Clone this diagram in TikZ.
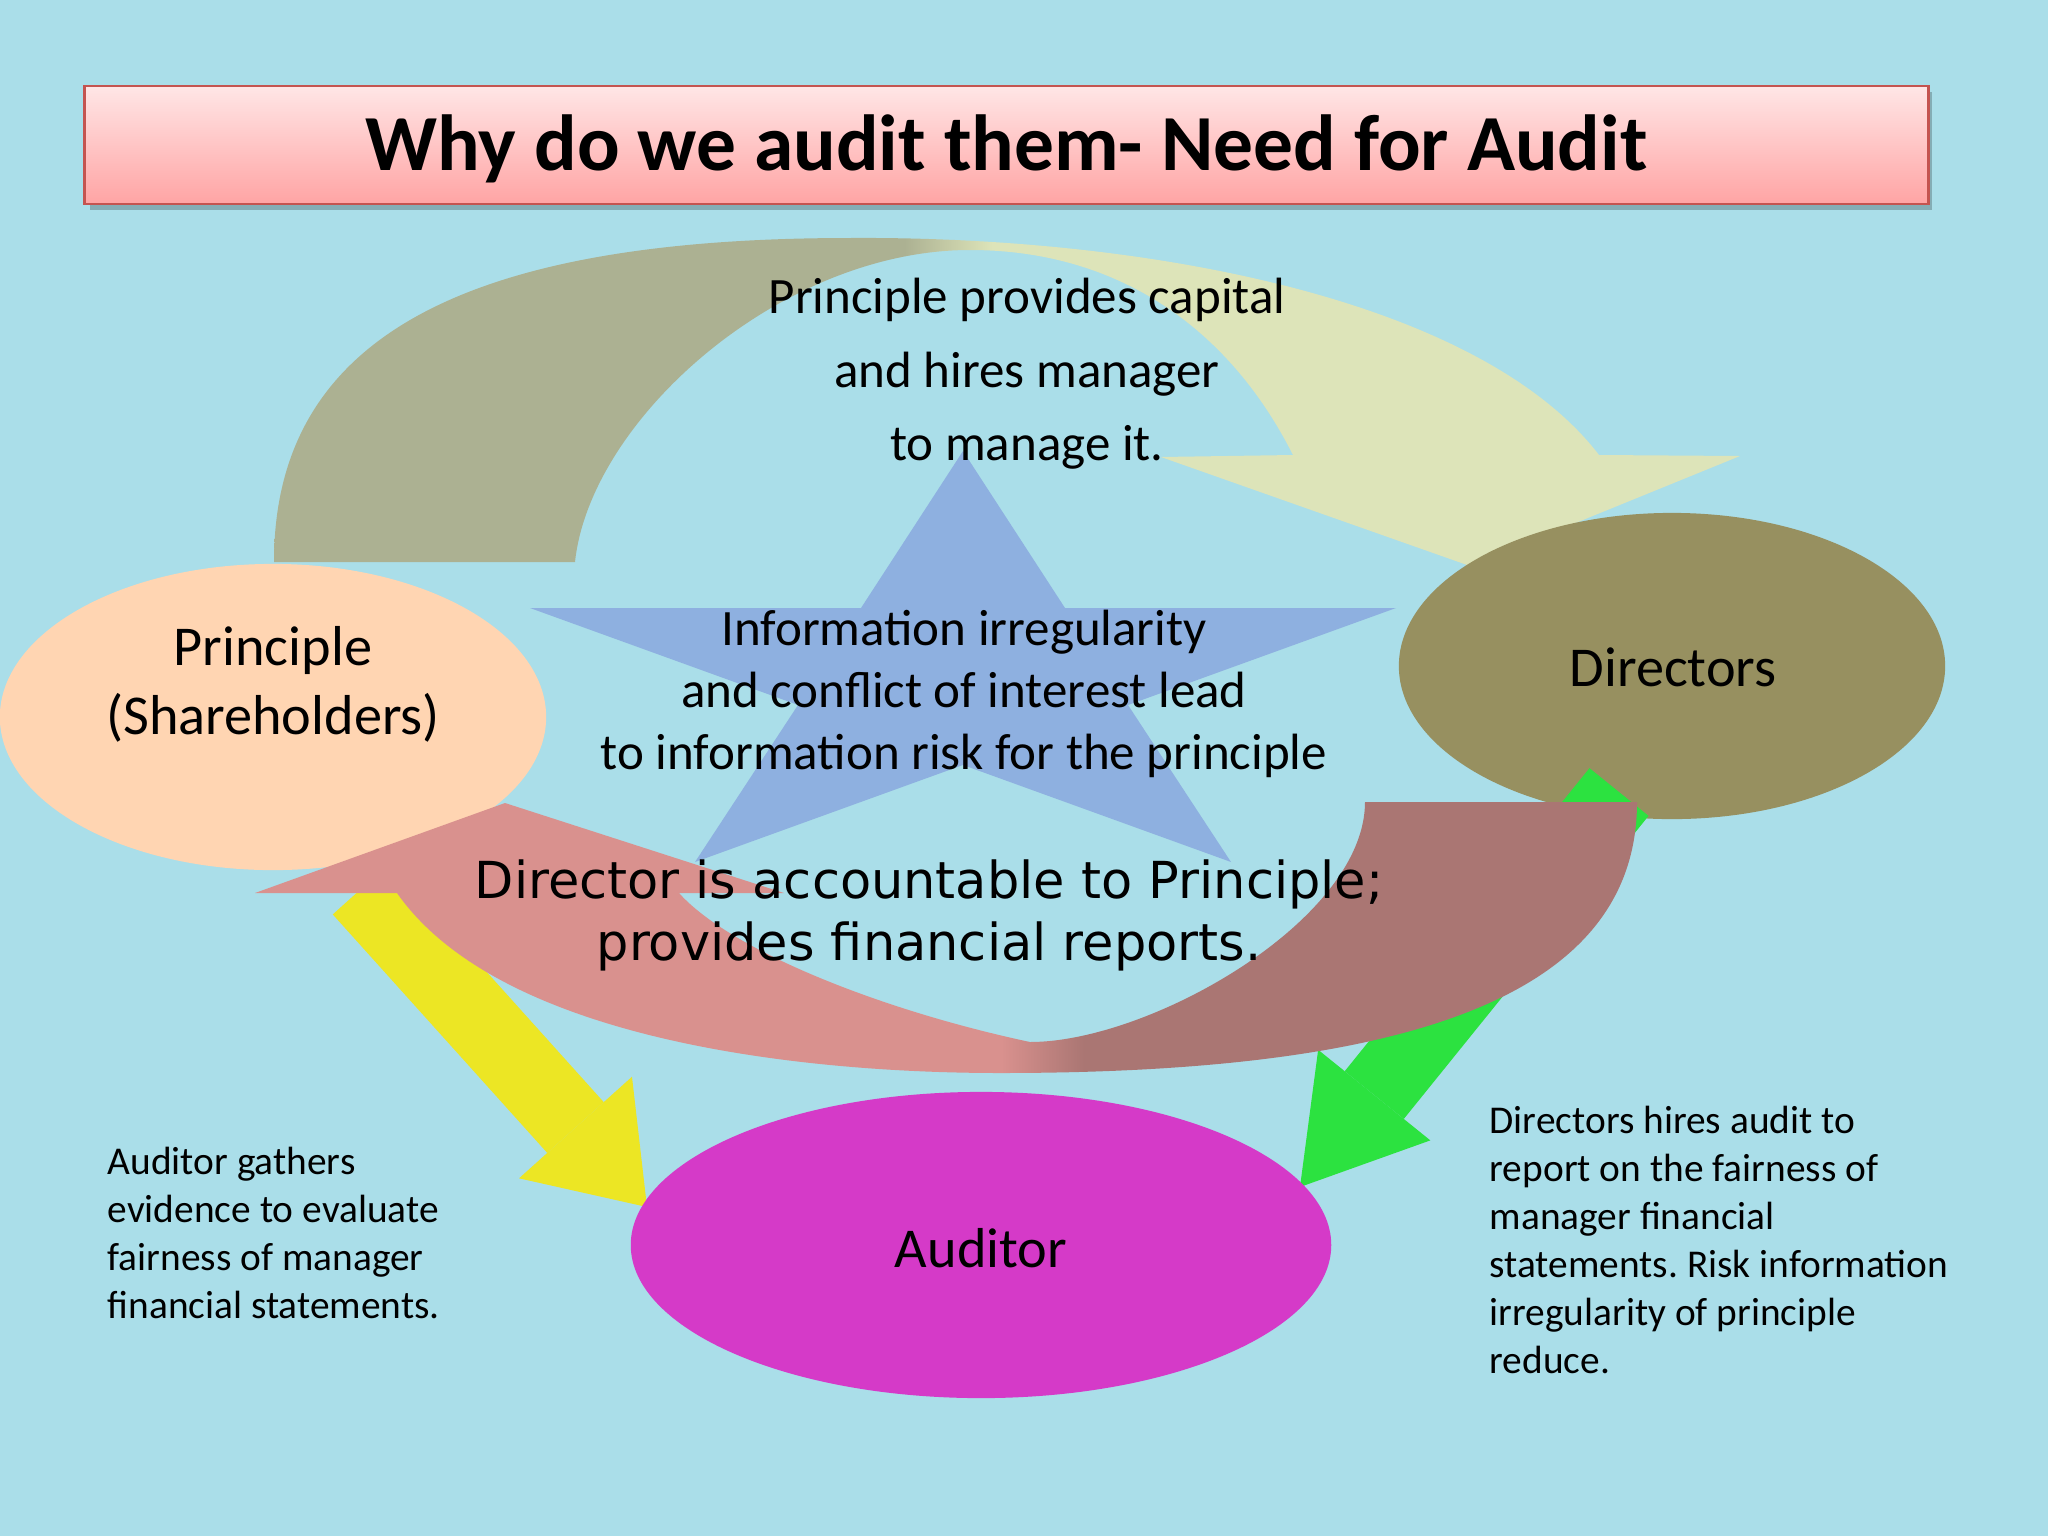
\documentclass[tikz,border=0pt]{standalone}
\usepackage{fontspec}
\setmainfont{Carlito}
\newfontfamily\djv{DejaVu Sans}
\usetikzlibrary{arrows.meta,shapes.geometric}
\frenchspacing
\definecolor{bgc}{RGB}{170,222,233}
\definecolor{titletop}{RGB}{255,230,230}
\definecolor{titlebot}{RGB}{255,164,164}
\definecolor{titleborder}{RGB}{196,84,80}
\definecolor{arcL}{RGB}{172,177,146}
\definecolor{arcR}{RGB}{221,228,185}
\definecolor{peach}{RGB}{255,213,178}
\definecolor{olivec}{RGB}{151,144,96}
\definecolor{magc}{RGB}{213,58,200}
\definecolor{starblue}{RGB}{142,176,224}
\definecolor{yelc}{RGB}{236,230,36}
\definecolor{grnc}{RGB}{44,226,64}
\definecolor{pinkL}{RGB}{217,145,142}
\definecolor{brownR}{RGB}{170,118,115}
\pgfdeclarehorizontalshading{archshade}{100bp}{color(0bp)=(arcL); color(46.5bp)=(arcL); color(49.5bp)=(arcR); color(100bp)=(arcR)}
\pgfdeclarehorizontalshading{bowlshade}{100bp}{color(0bp)=(pinkL); color(52bp)=(pinkL); color(55bp)=(brownR); color(100bp)=(brownR)}
\tikzset{
  titlebox/.style={draw=titleborder, line width=0.8pt, top color=titletop, bottom color=titlebot,
    minimum width=524.4pt, minimum height=33.6pt, inner sep=0pt,
    text height=19pt, text depth=4.5pt,
    font=\fontsize{22.6}{27}\selectfont\bfseries},
  ellnode/.style={ellipse, inner sep=0pt, draw=none},
  bigtext/.style={align=center, inner sep=0pt, font=\fontsize{16}{19.7}\selectfont},
  captext/.style={align=center, inner sep=0pt},
  sidetext/.style={align=left, anchor=west, inner sep=0pt, font=\fontsize{11.2}{13.7}\selectfont},
  fatarrow/.style={line width=21.6pt, line cap=butt}
}
\begin{document}
\begin{tikzpicture}[x=0.01cm,y=-0.01cm]
\useasboundingbox (0,0) rectangle (2048,1536);
\fill[bgc] (0,0) rectangle (2048,1536);

% title
\fill[black, opacity=0.22] (90,92) rectangle (1932,210);
\node[titlebox] (title) at (1006.5,145) {Why do we audit them- Need for Audit};

% top curved arrow (Principle -> Directors)
\path[shading=archshade] (274,562) .. controls (274,340) and (460,238) .. (850,238)
  .. controls (1150,236) and (1480,300) .. (1599,455) -- (1740,456) -- (1470,566)
  -- (1161,457) -- (1293,455) .. controls (1230,330) and (1120,250) .. (970,250)
  .. controls (780,250) and (590,420) .. (575,562) -- cycle;

% ellipses
\node[ellnode, fill=olivec, minimum width=155.35pt, minimum height=87.07pt] (dir) at (1672,666) {};
\node[ellnode, fill=peach, minimum width=155.35pt, minimum height=87.07pt] (prin) at (273,717) {};

% star
\fill[starblue] (963,451) -- (1065,608) -- (1396,608) -- (1128,705) -- (1231,862)
  -- (963,765) -- (695,862) -- (798,705) -- (530,608) -- (861,608) -- cycle;

% straight arrows
\coordinate (ys) at (361,889);
\coordinate (ye) at (647,1207);
\coordinate (gs) at (1619,792);
\coordinate (ge) at (1300,1187);
\draw[fatarrow, draw=yelc, -{Triangle[width=43.2pt, length=30.4pt, line width=0pt]}] (ys) -- (ye);
\draw[fatarrow, draw=grnc, -{Triangle[width=41pt, length=33.6pt, line width=0pt]}] (gs) -- (ge);

% bottom curved arrow (Directors -> Principle)
\path[shading=bowlshade] (1637,802) .. controls (1637,1000) and (1400,1073) .. (1000,1073)
  .. controls (800,1073) and (500,1040) .. (397,893) -- (255,893) -- (505,803)
  -- (784,893) -- (679,893) .. controls (730,950) and (880,1010) .. (1030,1042)
  .. controls (1150,1042) and (1365,920) .. (1365,802) -- cycle;

% auditor
\node[ellnode, fill=magc, minimum width=199.2pt, minimum height=87.07pt] (aud) at (981,1245) {};

% texts
\node[bigtext] (prinlbl) at (273,684) {Principle\\(Shareholders)};
\node[bigtext] (dirlbl) at (1673,667) {Directors};
\node[bigtext] (audlbl) at (981,1248) {Auditor};
\node[captext, font=\fontsize{14.5}{20.9}\selectfont] (captxt) at (1027,374)
  {Principle provides capital\\and hires manager\\to manage it.};
\node[captext, font=\fontsize{14.5}{17.6}\selectfont] (startxt) at (964,694)
  {Information irregularity\\and conflict of interest lead\\to information risk for the principle};
\node[captext, font=\djv\fontsize{14.5}{17.6}\selectfont] (acctxt) at (929,915)
  {Director is accountable to Principle;\\provides financial reports.};
\node[sidetext] (lefttxt) at (107,1233)
  {Auditor gathers\\evidence to evaluate\\fairness of manager\\financial statements.};
\node[sidetext] (righttxt) at (1489,1240)
  {Directors hires audit to\\report on the fairness of\\manager financial\\statements. Risk information\\irregularity of principle\\reduce.};
\end{tikzpicture}
\end{document}
